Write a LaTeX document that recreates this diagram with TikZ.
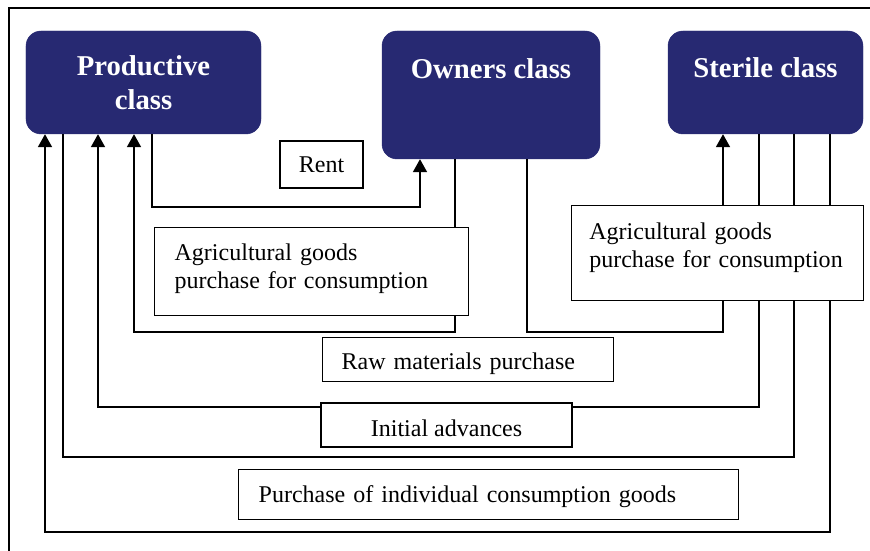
\documentclass[tikz,border=0pt]{standalone}
\usepackage{fontspec}
\setmainfont{Liberation Serif}
\usetikzlibrary{arrows.meta}
\definecolor{classblue}{RGB}{39,41,114}

\begin{document}
\begin{tikzpicture}[x=0.3mm,y=-0.3mm,
  classbox/.style={rounded corners=4.5mm,fill=classblue,draw=classblue,text=white,
    font=\fontsize{24.5}{29}\selectfont\bfseries,align=center,inner sep=0pt},
  labelbox/.style={draw,fill=white,line width=1.1pt,inner ysep=0pt,inner xsep=6mm,
    font=\fontsize{20.5}{24}\selectfont},
  flow/.style={line width=1.2pt},
  >={Triangle[length=11pt,width=12pt]}]

\useasboundingbox (0,0) rectangle (870,551);

% frame
\draw[line width=1.1pt] (9,551)--(9,8)--(870,8);

% the three classes
\node[classbox,minimum width=70.5mm,minimum height=30.9mm] (prod) at (143.5,82.5) {Productive\\class};
\node[classbox,minimum width=65.4mm,minimum height=38.4mm,text depth=16mm] (own) at (491,95) {Owners class};
\node[classbox,minimum width=58.5mm,minimum height=30.9mm,text depth=9mm] (ster) at (765.5,82.5) {Sterile class};

% flows between the classes
\draw[flow,->] (prod.south -| 152,0) -- (152,207) -| (own.south -| 420,0);
\draw[flow,->] (own.south -| 455,0) -- (455,332) -| (prod.south -| 134,0);
\draw[flow,->] (own.south -| 527,0) -- (527,332) -| (ster.south -| 723,0);
\draw[flow,->] (ster.south -| 759,0) -- (759,407) -| (prod.south -| 98,0);
\draw[flow] (prod.south -| 63,0) -- (63,457) -| (ster.south -| 794,0);
\draw[flow,->] (ster.south -| 830,0) -- (830,532) -| (prod.south -| 45,0);

% labels
\node[labelbox,inner xsep=3mm,minimum width=24.9mm,minimum height=14.1mm] (rent) at (321.5,164.5) {Rent};
\node[labelbox,anchor=north west,minimum height=26.4mm,text width=82.2mm,align=left,text depth=34pt] (agriL) at (154,227) {Agricultural goods\\purchase for consumption};
\node[labelbox,anchor=north west,inner xsep=5.3mm,minimum height=28.5mm,text width=77mm,align=left,text depth=38pt] (agriR) at (571,205) {Agricultural goods\\purchase for consumption};
\node[labelbox,anchor=north west,inner xsep=5.7mm,minimum height=13.2mm,text width=75.9mm,align=left,text height=21pt] (raw) at (322,337) {Raw materials purchase};
\node[labelbox,minimum width=75.3mm,minimum height=13.2mm,text height=19pt] (adv) at (446.5,425) {Initial advances};
\node[labelbox,anchor=north west,minimum height=15mm,text width=138mm,align=left,text height=17.4pt] (purch) at (238,469) {Purchase of individual consumption goods};
\end{tikzpicture}
\end{document}
